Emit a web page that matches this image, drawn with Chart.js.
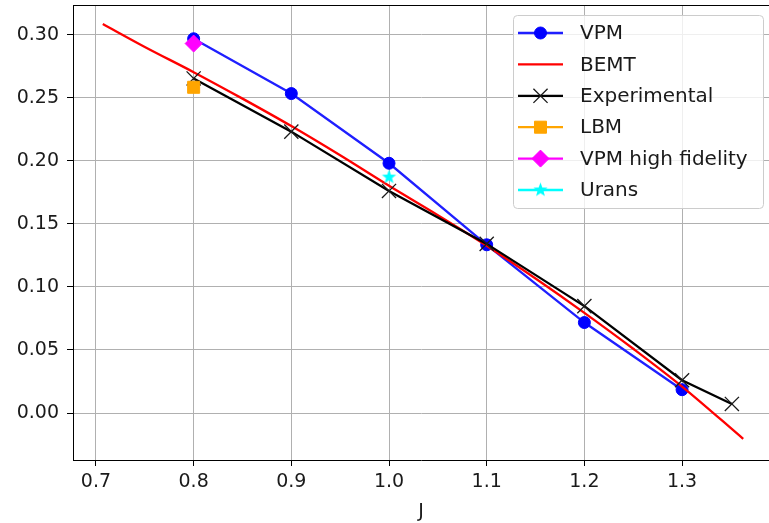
<!DOCTYPE html>
<html lang="en">
<head>
  <meta charset="UTF-8" />
  <title>Thrust coefficient vs J</title>
  <script src="https://cdn.jsdelivr.net/npm/chart.js"></script>
  <style>
    body {
      margin: 0;
      background: #fff;
    }
    canvas {
      display: block;
    }
  </style>
</head>
<body>
  <canvas id="chart" width="769" height="523"></canvas>

  <script>
    // advance ratio J and results of each method
    const vpmJ = [0.8, 0.9, 1.0, 1.1, 1.2, 1.3];
    const vpmCt = [0.297, 0.2535, 0.1982, 0.1335, 0.0718, 0.0185];

    const bemtJ = [0.707, 0.75, 0.8, 0.85, 0.9, 0.95, 1.0, 1.05, 1.1, 1.15, 1.2, 1.25, 1.3, 1.3626];
    const bemtCt = [0.3087, 0.2905, 0.2705, 0.2495, 0.2277, 0.2045, 0.1803, 0.157, 0.1328, 0.1068, 0.0795, 0.051, 0.021, -0.0205];

    const expJ = [0.8, 0.9, 1.0, 1.1, 1.2, 1.3, 1.351];
    const expCt = [0.2655, 0.2233, 0.1762, 0.1342, 0.0848, 0.026, 0.0072];

    const lbmJ = [0.8];
    const lbmCt = [0.2585];

    const vpmHfJ = [0.8];
    const vpmHfCt = [0.2932];

    const uransJ = [1.0];
    const uransCt = [0.1872];

    const xTicks = [0.7, 0.8, 0.9, 1.0, 1.1, 1.2, 1.3];
    const yTicks = [0.0, 0.05, 0.10, 0.15, 0.20, 0.25, 0.30];

    const FONT = "'DejaVu Sans', sans-serif";

    function pts(xs, ys) {
      return xs.map((x, i) => ({ x: x, y: ys[i] }));
    }

    // filled five-point star, Chart.js only has the asterisk one
    function makeStar(color, r) {
      const c = document.createElement("canvas");
      const s = Math.ceil(r * 2 + 2);
      c.width = s;
      c.height = s;
      const g = c.getContext("2d");
      g.beginPath();
      for (let i = 0; i < 10; i++) {
        const rad = i % 2 === 0 ? r : r * 0.42;
        const a = -Math.PI / 2 + i * Math.PI / 5;
        const px = s / 2 + Math.cos(a) * rad;
        const py = s / 2 + Math.sin(a) * rad;
        if (i === 0) g.moveTo(px, py); else g.lineTo(px, py);
      }
      g.closePath();
      g.fillStyle = color;
      g.fill();
      return c;
    }
    const starImg = makeStar("#00ffff", 7.5);

    // no extra room for overhanging tick labels
    function noPad(axis) {
      axis.paddingTop = 0;
      axis.paddingBottom = 0;
      axis.paddingLeft = 0;
      axis.paddingRight = 0;
    }

    // legend box in the upper right, plus the top spine
    const boxLegend = {
      id: "boxLegend",
      afterDatasetsDraw(chart) {
        const ctx = chart.ctx;
        const area = chart.chartArea;

        ctx.save();
        ctx.strokeStyle = "#000";
        ctx.lineWidth = 1;
        ctx.beginPath();
        ctx.moveTo(area.left, area.top + 0.5);
        ctx.lineTo(area.right, area.top + 0.5);
        ctx.stroke();

        const x0 = 513.5, y0 = 15.5, w = 250, h = 193;
        ctx.beginPath();
        ctx.roundRect(x0, y0, w, h, 4);
        ctx.fillStyle = "rgba(255,255,255,0.8)";
        ctx.fill();
        ctx.strokeStyle = "#cccccc";
        ctx.lineWidth = 1;
        ctx.stroke();

        ctx.font = "20px " + FONT;
        ctx.textBaseline = "middle";
        ctx.textAlign = "left";

        chart.data.datasets.forEach((ds, i) => {
          const y = 33 + i * 31.4;
          ctx.strokeStyle = ds.borderColor;
          ctx.lineWidth = ds.borderWidth;
          ctx.beginPath();
          ctx.moveTo(518, y);
          ctx.lineTo(563, y);
          ctx.stroke();
          if (ds.pointRadius > 0) {
            ctx.fillStyle = ds.pointBackgroundColor;
            ctx.strokeStyle = ds.pointBorderColor;
            ctx.lineWidth = ds.pointBorderWidth;
            Chart.helpers.drawPoint(ctx, {
              pointStyle: ds.pointStyle,
              radius: ds.pointRadius,
              rotation: 0,
              borderWidth: ds.pointBorderWidth
            }, 540.5, y);
          }
          ctx.fillStyle = "#1a1a1a";
          ctx.fillText(ds.label, 580, y + 1);
        });
        ctx.restore();
      }
    };

    const ctx = document.getElementById("chart").getContext("2d");
    new Chart(ctx, {
      type: "scatter",
      data: {
        datasets: [
          {
            label: "VPM",
            data: pts(vpmJ, vpmCt),
            showLine: true,
            borderColor: "#1f1fff",
            borderWidth: 2.3,
            pointStyle: "circle",
            pointRadius: 6,
            pointBackgroundColor: "#0000ff",
            pointBorderColor: "#0000ff",
            pointBorderWidth: 1,
            order: 5
          },
          {
            label: "BEMT",
            data: pts(bemtJ, bemtCt),
            showLine: true,
            borderColor: "#ff0000",
            borderWidth: 2.3,
            pointRadius: 0,
            cubicInterpolationMode: "monotone",
            order: 4
          },
          {
            label: "Experimental",
            data: pts(expJ, expCt),
            showLine: true,
            borderColor: "#000000",
            borderWidth: 2.3,
            pointStyle: "crossRot",
            pointRadius: 10,
            pointBackgroundColor: "#000000",
            pointBorderColor: "#1a1a1a",
            pointBorderWidth: 1.3,
            order: 3
          },
          {
            label: "LBM",
            data: pts(lbmJ, lbmCt),
            showLine: true,
            borderColor: "#ffa500",
            borderWidth: 2.3,
            pointStyle: "rect",
            pointRadius: 8.5,
            pointBackgroundColor: "#ffa500",
            pointBorderColor: "#ffa500",
            pointBorderWidth: 1,
            order: 2
          },
          {
            label: "VPM high fidelity",
            data: pts(vpmHfJ, vpmHfCt),
            showLine: true,
            borderColor: "#ff00ff",
            borderWidth: 2.3,
            pointStyle: "rectRot",
            pointRadius: 8.5,
            pointBackgroundColor: "#ff00ff",
            pointBorderColor: "#ff00ff",
            pointBorderWidth: 1,
            order: 1
          },
          {
            label: "Urans",
            data: pts(uransJ, uransCt),
            showLine: true,
            borderColor: "#00ffff",
            borderWidth: 2.3,
            pointStyle: starImg,
            pointRadius: 7,
            pointBackgroundColor: "#00ffff",
            pointBorderColor: "#00ffff",
            pointBorderWidth: 1,
            order: 0
          }
        ]
      },
      options: {
        responsive: false,
        animation: false,
        layout: { autoPadding: false, padding: { top: 5, right: 0, left: 0, bottom: 0 } },
        plugins: {
          legend: { display: false },
          tooltip: { enabled: false }
        },
        scales: {
          x: {
            type: "linear",
            min: 0.6765,
            max: 1.389,
            afterBuildTicks: axis => { axis.ticks = xTicks.map(v => ({ value: v })); },
            afterFit: axis => { axis.height = 63; noPad(axis); },
            grid: { color: "#b0b0b0", lineWidth: 1, tickLength: 6, tickColor: "#000" },
            border: { color: "#000", width: 1 },
            ticks: {
              padding: 5,
              color: "#1a1a1a",
              font: { family: FONT, size: 19 },
              maxRotation: 0,
              callback: v => v.toFixed(1)
            },
            title: {
              display: true,
              text: "J",
              color: "#1a1a1a",
              padding: { top: 1, bottom: 0 },
              font: { family: FONT, size: 19 }
            }
          },
          y: {
            type: "linear",
            min: -0.0373,
            max: 0.3238,
            afterBuildTicks: axis => { axis.ticks = yTicks.map(v => ({ value: v })); },
            afterFit: axis => { axis.width = 73; noPad(axis); },
            grid: { color: "#b0b0b0", lineWidth: 1, tickLength: 6, tickColor: "#000" },
            border: { color: "#000", width: 1 },
            ticks: {
              padding: 8,
              color: "#1a1a1a",
              font: { family: FONT, size: 19 },
              callback: v => v.toFixed(2)
            }
          }
        }
      },
      plugins: [boxLegend]
    });
  </script>
</body>
</html>
